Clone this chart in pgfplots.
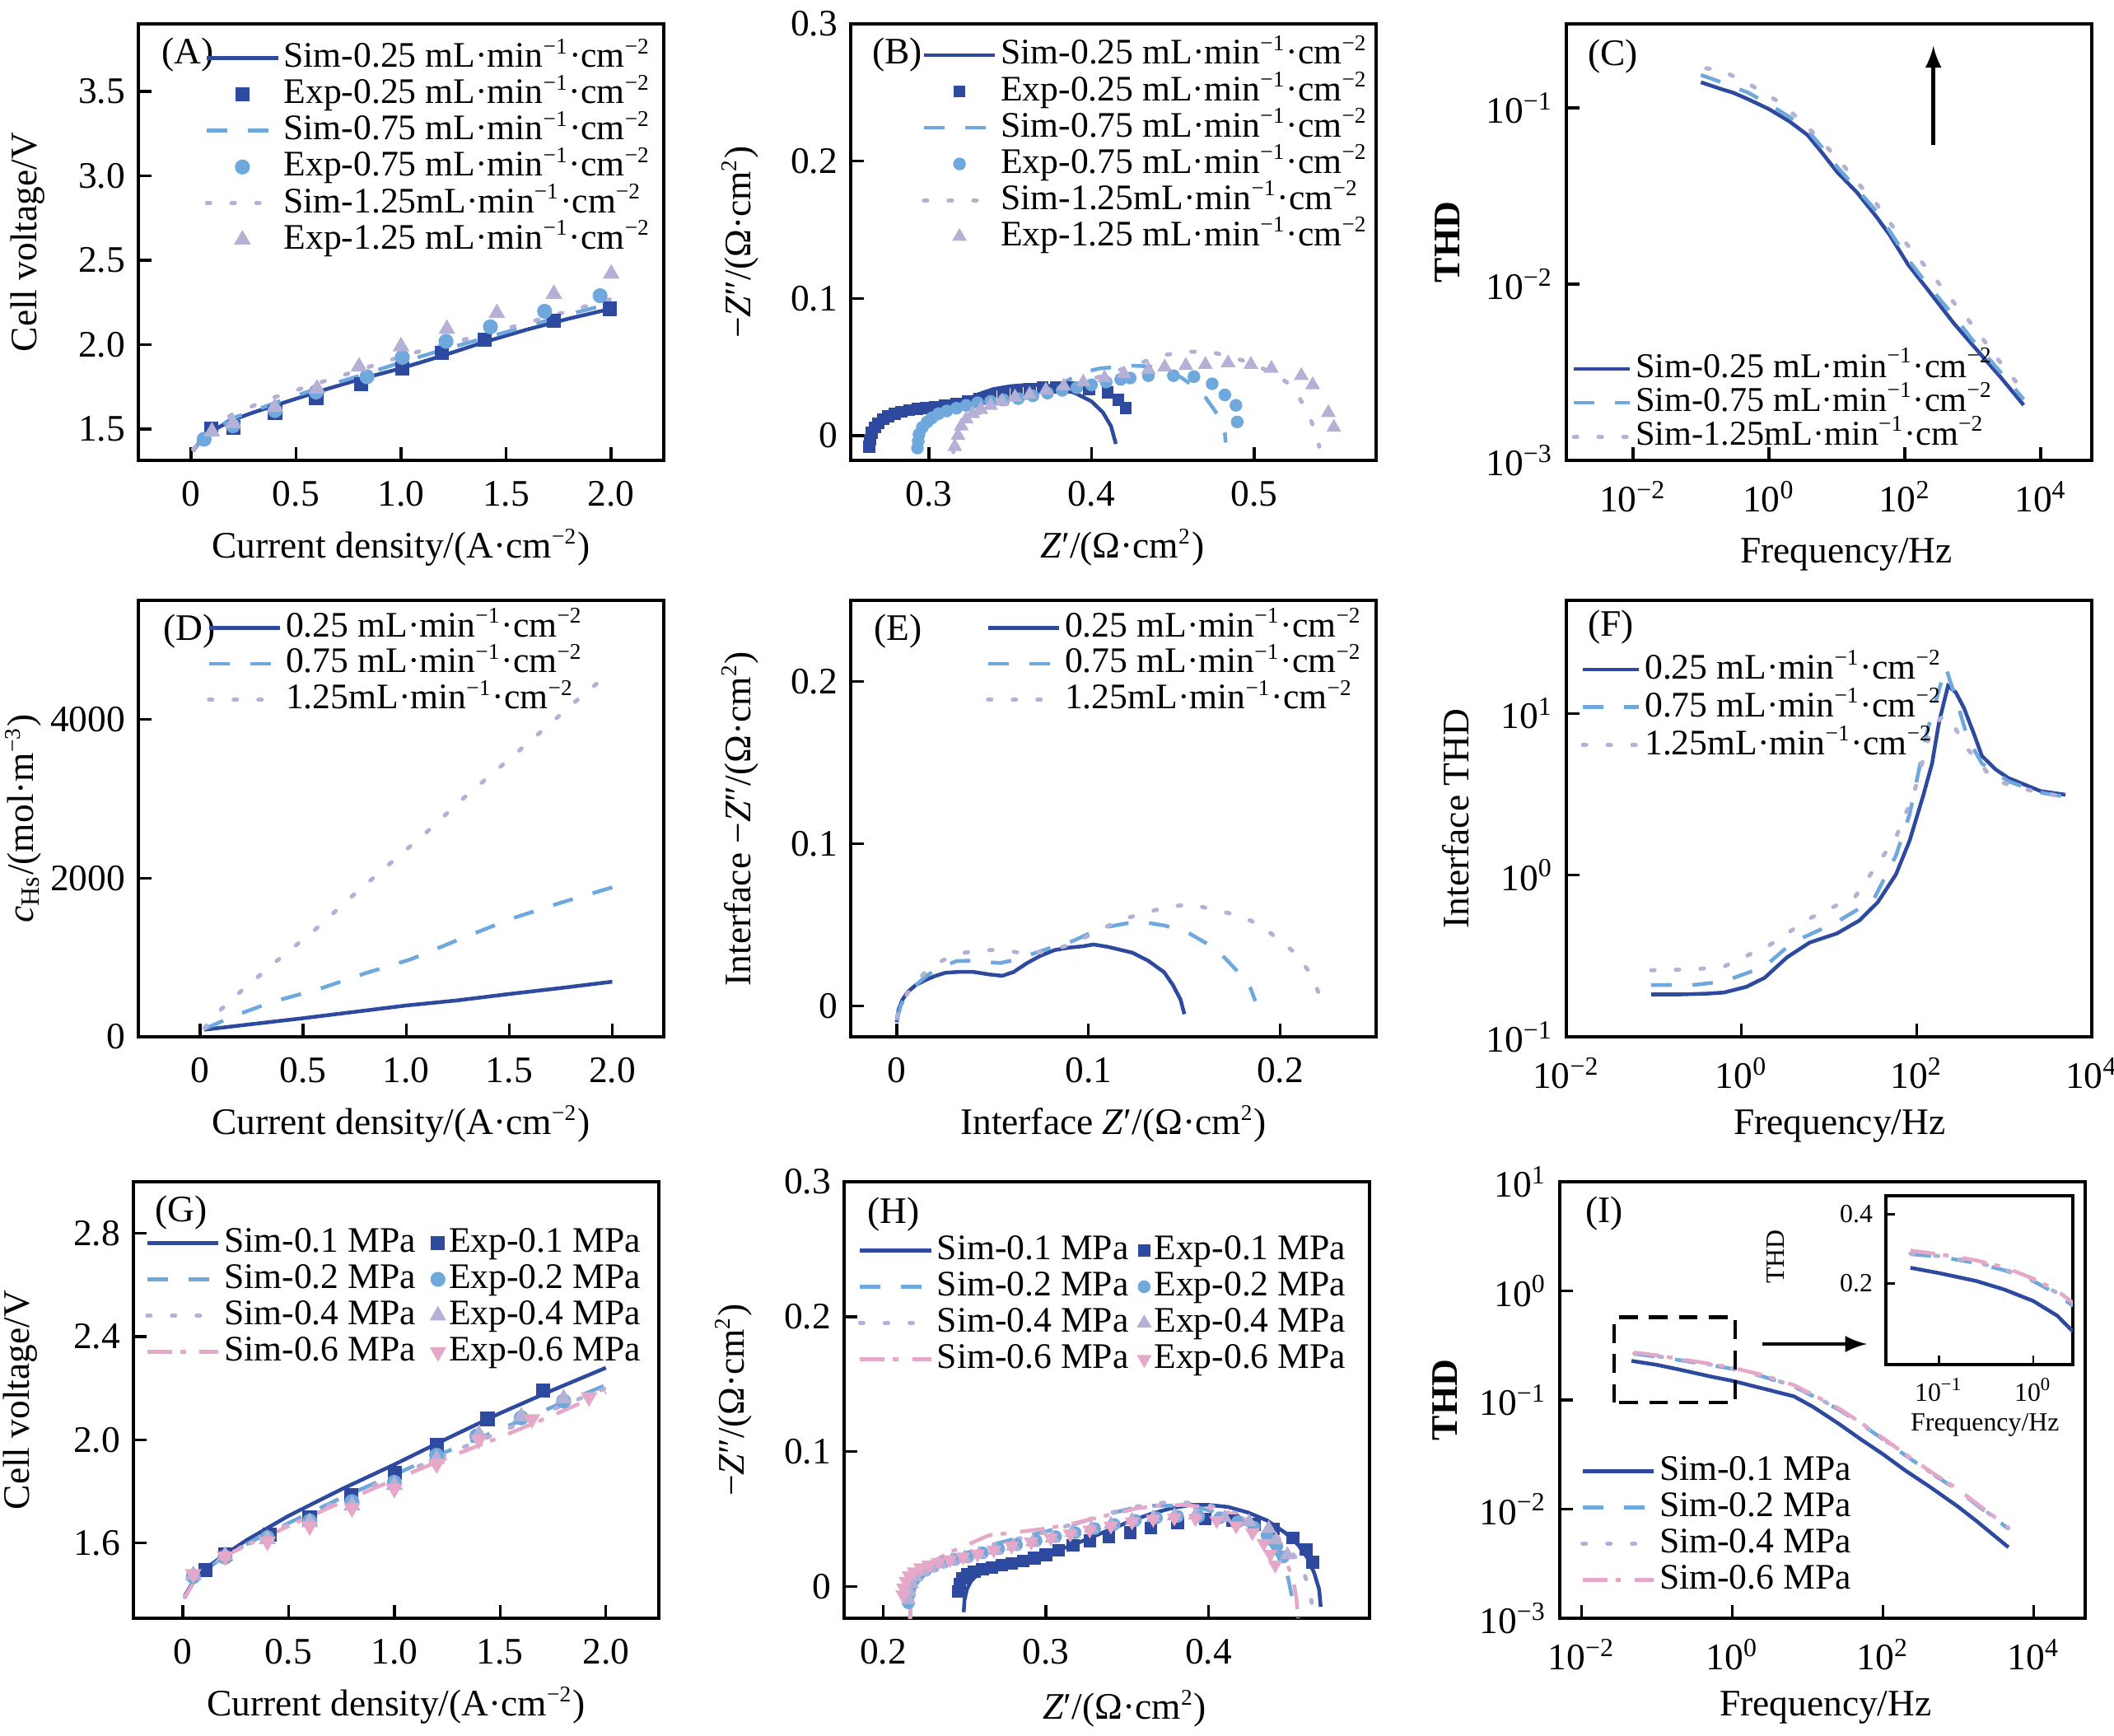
\documentclass[border=0pt]{standalone}
\usepackage{fontspec}
\setmainfont{Liberation Serif}
\usepackage{pgfplots}
\pgfplotsset{compat=1.18}
\definecolor{cdark}{RGB}{46,74,158}
\definecolor{clight}{RGB}{111,168,220}
\definecolor{clav}{RGB}{181,176,214}
\definecolor{cpink}{RGB}{230,168,200}
\newcommand{\sups}[1]{\textsuperscript{\fontsize{6}{7}\selectfont#1}}
\newcommand{\uu}{mL·min\sups{−1}·cm\sups{−2}}
\newcommand{\cd}{Current density/(A·cm\sups{−2})}
\newcommand{\zr}{\textit{Z}′/(Ω·cm\sups{2})}
\newcommand{\zi}{−\textit{Z}″/(Ω·cm\sups{2})}
\newcommand{\tn}[1]{10\textsuperscript{#1}}
\pgfplotsset{
  panel/.style={scale only axis, width=140.36pt, height=116.6pt,
    tick align=inside, tick pos=left, major tick length=3.5pt,
    axis line style={line width=0.75pt}, major tick style={line width=0.75pt,black},
    xminorticks=false, yminorticks=false,
    ticklabel style={font=\fontsize{10}{12}\selectfont},
    label style={font=\fontsize{10}{12}\selectfont},
    xticklabel style={yshift=-2pt},
    xlabel style={at={(axis description cs:0.5,-0.2)},anchor=center},
    ylabel style={at={(axis description cs:-0.21,0.5)},anchor=center},
    legend cell align=left,
    legend style={draw=none,fill=none,inner sep=0pt,font=\fontsize{9.6}{11}\selectfont,
      nodes={inner xsep=1pt,inner ysep=0pt,text height=7.3pt,text depth=2.4pt}},
    legend image code/.code={\draw[mark repeat=2,mark phase=2,##1] plot coordinates {(0pt,0pt)(9.5pt,0pt)(19pt,0pt)};}},
  leg15/.style={legend image code/.code={\draw[mark repeat=2,mark phase=2,##1] plot coordinates {(0pt,0pt)(7.5pt,0pt)(15pt,0pt)};}},
  markleg/.style={legend image code/.code={\draw[##1] plot coordinates {(0pt,0pt)};}},
  s1/.style={cdark, line width=1pt, no marks},
  s2/.style={clight, line width=1pt, dash pattern=on 5.5pt off 5.5pt, no marks},
  s3/.style={clav, line width=1.1pt, dash pattern=on 0.9pt off 5.7pt, line cap=round, no marks},
  s4/.style={cpink, line width=1pt, dash pattern=on 6.6pt off 2.2pt on 1.5pt off 3.7pt, no marks},
  e1/.style={only marks, mark=square*, cdark, mark size=1.7pt},
  e2/.style={only marks, mark=*, clight, mark size=1.8pt},
  e3/.style={only marks, mark=triangle*, clav, mark size=2.2pt},
  e4/.style={only marks, mark=triangle*, mark options={rotate=180}, cpink, mark size=2.2pt},
}
\begin{document}
\begin{tikzpicture}
\useasboundingbox (0,0) rectangle (564.74pt,-463.54pt);
% ---------------- A
\begin{axis}[panel, at={(36.96pt,-122.98pt)}, anchor=south west,
  xmin=-0.25, xmax=2.25, ymin=1.315, ymax=3.9,
  xtick={0,0.5,1,1.5,2}, xticklabels={0,0.5,1.0,1.5,2.0},
  ytick={1.5,2,2.5,3,3.5}, yticklabels={1.5,2.0,2.5,3.0,3.5},
  xlabel={\cd}, ylabel={Cell voltage/V},
  legend style={at={(0.125,0.965)},anchor=north west}]
\addplot[s1] coordinates {(0.01,1.37)(0.05,1.44)(0.1,1.49)(0.2,1.555)(0.3,1.60)(0.4,1.64)(0.6,1.72)(0.8,1.794)(1.0,1.86)(1.2,1.936)(1.4,2.017)(1.6,2.09)(1.8,2.155)(2.0,2.213)};
\addlegendentry{Sim-0.25 \uu}
\addplot[e1] coordinates {(0.097,1.5)(0.203,1.51)(0.4,1.598)(0.596,1.685)(0.81,1.766)(1.006,1.86)(1.193,1.951)(1.399,2.03)(1.727,2.143)(1.994,2.213)};
\addlegendentry{Exp-0.25 \uu}
\addplot[s2] coordinates {(0.01,1.37)(0.05,1.44)(0.1,1.49)(0.2,1.565)(0.4,1.655)(0.6,1.74)(0.8,1.815)(1.0,1.895)(1.2,1.97)(1.4,2.04)(1.6,2.11)(1.8,2.18)(2.0,2.245)};
\addlegendentry{Sim-0.75 \uu}
\addplot[e2] coordinates {(0.063,1.44)(0.2,1.52)(0.4,1.61)(0.596,1.72)(0.838,1.81)(1.006,1.925)(1.214,2.02)(1.425,2.106)(1.683,2.198)(1.947,2.29)};
\addlegendentry{Exp-0.75 \uu}
\addplot[s3] coordinates {(0.01,1.38)(0.1,1.51)(0.2,1.59)(0.4,1.69)(0.6,1.77)(0.8,1.85)(1.0,1.93)(1.2,2.0)(1.4,2.06)(1.6,2.13)(1.8,2.2)(2.0,2.27)};
\addlegendentry{Sim-1.25\uu}
\addplot[e3] coordinates {(0.1,1.485)(0.2,1.533)(0.4,1.63)(0.6,1.74)(0.8,1.87)(1.0,1.99)(1.218,2.093)(1.456,2.187)(1.727,2.30)(2.0,2.42)};
\addlegendentry{Exp-1.25 \uu}
\node[anchor=west,font=\fontsize{10}{12}\selectfont] at (axis description cs:0.02,0.93) {(A)};
\end{axis}
% ---------------- B
\begin{axis}[panel, at={(227.26pt,-122.98pt)}, anchor=south west,
  xmin=0.252, xmax=0.575, ymin=-0.018, ymax=0.3,
  xtick={0.3,0.4,0.5}, xticklabels={0.3,0.4,0.5},
  ytick={0,0.1,0.2,0.3}, yticklabels={0,0.1,0.2,0.3},
  xlabel={\zr}, ylabel={\zi},
  xlabel style={at={(axis description cs:0.517,-0.2)}},
  legend style={at={(0.134,0.972)},anchor=north west}]
\addplot[s1] coordinates {(0.2625,-0.010)(0.2635,-0.002)(0.265,0.004)(0.268,0.009)(0.272,0.013)(0.277,0.016)(0.283,0.018)(0.29,0.0195)(0.30,0.0205)(0.31,0.021)(0.32,0.024)(0.33,0.030)(0.34,0.034)(0.35,0.036)(0.36,0.037)(0.37,0.037)(0.38,0.035)(0.39,0.031)(0.40,0.025)(0.407,0.017)(0.412,0.007)(0.415,-0.006)};
\addlegendentry{Sim-0.25 \uu}
\addplot[e1,mark size=1.4pt] coordinates {(0.2635,-0.008)(0.264,-0.003)(0.265,0.002)(0.267,0.006)(0.269,0.009)(0.272,0.012)(0.275,0.014)(0.279,0.016)(0.283,0.0175)(0.288,0.0185)(0.293,0.0195)(0.298,0.020)(0.304,0.021)(0.310,0.022)(0.317,0.023)(0.324,0.025)(0.331,0.027)(0.338,0.029)(0.346,0.031)(0.354,0.033)(0.362,0.034)(0.370,0.035)(0.378,0.035)(0.386,0.035)(0.3985,0.034)(0.41,0.0315)(0.4165,0.026)(0.421,0.020)};
\addlegendentry{Exp-0.25 \uu}
\addplot[s2] coordinates {(0.2925,-0.012)(0.293,-0.004)(0.295,0.004)(0.298,0.009)(0.302,0.013)(0.308,0.016)(0.315,0.019)(0.325,0.022)(0.335,0.024)(0.345,0.026)(0.355,0.028)(0.365,0.031)(0.375,0.035)(0.385,0.040)(0.395,0.046)(0.405,0.049)(0.415,0.050)(0.425,0.051)(0.435,0.0505)(0.445,0.048)(0.455,0.0425)(0.463,0.036)(0.47,0.028)(0.476,0.018)(0.48,0.009)(0.482,0.002)(0.4825,-0.005)};
\addlegendentry{Sim-0.75 \uu}
\addplot[e2,mark size=1.5pt] coordinates {(0.293,-0.009)(0.2935,-0.004)(0.294,0.001)(0.296,0.006)(0.299,0.010)(0.302,0.013)(0.306,0.016)(0.311,0.018)(0.317,0.020)(0.323,0.022)(0.330,0.024)(0.338,0.025)(0.346,0.026)(0.355,0.027)(0.364,0.029)(0.373,0.031)(0.382,0.033)(0.391,0.035)(0.400,0.037)(0.409,0.039)(0.418,0.041)(0.4238,0.042)(0.435,0.0437)(0.4504,0.0437)(0.463,0.043)(0.4742,0.0378)(0.482,0.0297)(0.4888,0.0221)(0.4896,0.010)};
\addlegendentry{Exp-0.75 \uu}
\addplot[s3] coordinates {(0.315,-0.012)(0.316,-0.004)(0.318,0.004)(0.322,0.010)(0.328,0.015)(0.336,0.019)(0.345,0.023)(0.355,0.026)(0.365,0.029)(0.375,0.032)(0.385,0.035)(0.395,0.039)(0.405,0.043)(0.415,0.047)(0.425,0.051)(0.435,0.055)(0.4434,0.0585)(0.4588,0.0612)(0.4728,0.0612)(0.487,0.057)(0.50,0.052)(0.512,0.045)(0.52,0.039)(0.526,0.0316)(0.534,0.014)(0.539,-0.002)(0.540,-0.008)};
\addlegendentry{Sim-1.25\uu}
\addplot[e3,mark size=1.9pt] coordinates {(0.316,-0.008)(0.318,0.0)(0.32,0.007)(0.323,0.012)(0.327,0.016)(0.332,0.019)(0.338,0.022)(0.345,0.025)(0.353,0.028)(0.362,0.030)(0.372,0.033)(0.383,0.036)(0.395,0.039)(0.408,0.042)(0.42,0.045)(0.435,0.048)(0.445,0.05)(0.458,0.051)(0.47,0.0518)(0.484,0.053)(0.498,0.0518)(0.5106,0.049)(0.529,0.0437)(0.536,0.037)(0.5456,0.0167)(0.549,0.006)};
\addlegendentry{Exp-1.25 \uu}
\node[anchor=west,font=\fontsize{10}{12}\selectfont] at (axis description cs:0.016,0.93) {(B)};
\end{axis}
% ---------------- C
\begin{axis}[panel, leg15, at={(418.44pt,-122.98pt)}, anchor=south west,
  xmode=log, ymode=log,
  xmin=0.00105, xmax=56234, ymin=0.001, ymax=0.30,
  xtick={0.01,1,100,10000}, xticklabels={\tn{−2},\tn{0},\tn{2},\tn{4}},
  ytick={0.001,0.01,0.1}, yticklabels={\tn{−3},\tn{−2},\tn{−1}},
  xlabel={Frequency/Hz}, ylabel={\textbf{THD}},
  xlabel style={at={(axis description cs:0.533,-0.215)}},
  ylabel style={at={(axis description cs:-0.227,0.5)}},
  legend style={at={(0.009,0.013)},anchor=south west,font=\fontsize{9.3}{11}\selectfont,
    nodes={inner xsep=1pt,inner ysep=0pt,text height=6.8pt,text depth=2.3pt}}]
\addplot[s1] coordinates {(0.1,0.14)(0.2,0.128)(0.3,0.122)(0.5,0.112)(1,0.0986)(2,0.084)(3.7,0.0703)(6,0.056)(10,0.0435)(20,0.033)(38,0.0242)(60,0.019)(112,0.0129)(200,0.0097)(525,0.006)(1000,0.0045)(2500,0.003)(5600,0.00206)};
\addlegendentry{Sim-0.25 \uu}
\addplot[s2] coordinates {(0.1,0.154)(0.2,0.14)(0.5,0.122)(1,0.105)(2,0.089)(3.7,0.075)(6,0.060)(10,0.0465)(20,0.0345)(38,0.026)(60,0.020)(112,0.0138)(200,0.0103)(525,0.0066)(1000,0.0048)(2500,0.0032)(5600,0.00222)};
\addlegendentry{Sim-0.75 \uu}
\addplot[s3] coordinates {(0.12,0.168)(0.2,0.164)(0.54,0.135)(1.26,0.111)(2.75,0.087)(5.5,0.067)(11,0.050)(20.4,0.0375)(38,0.0287)(71,0.0205)(132,0.0153)(245,0.0115)(457,0.0084)(850,0.0063)(1580,0.0046)(2940,0.00333)(5500,0.0025)};
\addlegendentry{Sim-1.25\uu}
\draw[-latex, line width=1pt, black] (axis cs:263,0.062) -- (axis cs:263,0.225);
\node[anchor=west,font=\fontsize{10}{12}\selectfont] at (axis description cs:0.016,0.926) {(C)};
\end{axis}
% ---------------- D
\begin{axis}[panel, at={(36.96pt,-276.98pt)}, anchor=south west,
  xmin=-0.3, xmax=2.25, ymin=0, ymax=5500,
  xtick={0,0.5,1,1.5,2}, xticklabels={0,0.5,1.0,1.5,2.0},
  ytick={0,2000,4000}, yticklabels={0,2000,4000},
  xlabel={\cd}, ylabel={\textit{c}\textsubscript{Hs}/(mol·m\sups{−3})},
  ylabel style={at={(axis description cs:-0.219,0.5)}},
  legend style={at={(0.129,0.98)},anchor=north west,
    nodes={inner xsep=1pt,inner ysep=0pt,text height=7.2pt,text depth=2.4pt}}]
\addplot[s1] coordinates {(0.02,90)(0.25,160)(0.5,235)(0.75,315)(1.0,395)(1.25,460)(1.5,540)(1.75,615)(2.0,695)};
\addlegendentry{0.25 \uu}
\addplot[s2] coordinates {(0.02,100)(0.18,279)(0.35,440)(0.58,605)(0.8,800)(1.022,977)(1.25,1220)(1.509,1488)(1.75,1690)(2.0,1884)};
\addlegendentry{0.75 \uu}
\addplot[s3] coordinates {(0.02,110)(0.093,325)(0.18,535)(0.37,953)(0.557,1349)(0.735,1767)(0.912,2163)(1.09,2558)(1.265,2977)(1.453,3395)(1.63,3790)(1.814,4209)(2.0,4614)};
\addlegendentry{1.25\uu}
\node[anchor=west,font=\fontsize{10}{12}\selectfont] at (axis description cs:0.022,0.93) {(D)};
\end{axis}
% ---------------- E
\begin{axis}[panel, at={(227.26pt,-276.98pt)}, anchor=south west,
  xmin=-0.024, xmax=0.25, ymin=-0.019, ymax=0.25,
  xtick={0,0.1,0.2}, xticklabels={0,0.1,0.2},
  ytick={0,0.1,0.2}, yticklabels={0,0.1,0.2},
  xlabel={Interface \zr}, ylabel={Interface \zi},
  legend style={at={(0.256,0.98)},anchor=north west,
    nodes={inner xsep=1pt,inner ysep=0pt,text height=7.2pt,text depth=2.4pt}}]
\addplot[s1] coordinates {(0,-0.01)(0.001,-0.002)(0.003,0.004)(0.006,0.009)(0.01,0.013)(0.015,0.016)(0.02,0.0185)(0.0254,0.0205)(0.032,0.021)(0.04,0.021)(0.048,0.0195)(0.055,0.0186)(0.061,0.021)(0.068,0.0265)(0.075,0.031)(0.0824,0.0345)(0.09,0.036)(0.097,0.0368)(0.1026,0.0379)(0.11,0.0365)(0.1228,0.0329)(0.131,0.028)(0.1394,0.0209)(0.144,0.013)(0.148,0.004)(0.150,-0.005)};
\addlegendentry{0.25 \uu}
\addplot[s2] coordinates {(0,-0.009)(0.002,0.0)(0.005,0.007)(0.01,0.013)(0.016,0.019)(0.023,0.024)(0.0313,0.0277)(0.04,0.028)(0.048,0.027)(0.054,0.0265)(0.06,0.028)(0.068,0.031)(0.078,0.035)(0.0919,0.0401)(0.101,0.045)(0.111,0.049)(0.12,0.051)(0.13,0.0515)(0.14,0.0495)(0.151,0.0458)(0.161,0.039)(0.17,0.031)(0.178,0.021)(0.1846,0.0107)(0.187,0.003)};
\addlegendentry{0.75 \uu}
\addplot[s3] coordinates {(0,-0.007)(0.003,0.003)(0.008,0.012)(0.015,0.021)(0.022,0.027)(0.031,0.032)(0.044,0.0345)(0.056,0.0345)(0.068,0.032)(0.08,0.034)(0.0907,0.038)(0.103,0.045)(0.1157,0.0526)(0.128,0.057)(0.1394,0.0605)(0.1525,0.0628)(0.1656,0.0594)(0.1774,0.056)(0.1893,0.0503)(0.1988,0.0413)(0.2083,0.0322)(0.2166,0.0186)(0.2214,0.0039)};
\addlegendentry{1.25\uu}
\node[anchor=west,font=\fontsize{10}{12}\selectfont] at (axis description cs:0.02,0.93) {(E)};
\end{axis}
% ---------------- F
\begin{axis}[panel, leg15, at={(418.44pt,-276.98pt)}, anchor=south west,
  xmode=log, ymode=log,
  xmin=0.01, xmax=10000, ymin=0.1, ymax=50,
  xtick={0.01,1,100,10000}, xticklabels={\tn{−2},\tn{0},\tn{2},\tn{4}},
  ytick={0.1,1,10}, yticklabels={\tn{−1},\tn{0},\tn{1}},
  xlabel={Frequency/Hz}, ylabel={Interface THD},
  xlabel style={at={(axis description cs:0.52,-0.205)}},
  legend style={at={(0.026,0.887)},anchor=north west,
    nodes={inner xsep=1pt,inner ysep=0pt,text height=7.6pt,text depth=2.5pt}}]
\addplot[s1] coordinates {(0.093,0.183)(0.2,0.183)(0.4,0.185)(0.63,0.188)(1.14,0.204)(1.84,0.232)(3.3,0.31)(6.0,0.383)(12.3,0.436)(22.3,0.525)(36,0.68)(58,1.01)(83,1.63)(118,3.06)(150,4.9)(180,8.8)(228,14.8)(280,13.5)(347,10.8)(450,7.5)(556,5.46)(800,4.5)(1120,3.98)(2600,3.31)(5000,3.14)};
\addlegendentry{0.25 \uu}
\addplot[s2] coordinates {(0.093,0.209)(0.3,0.21)(0.63,0.22)(1.84,0.272)(3.8,0.383)(12,0.51)(32,0.70)(58,1.32)(83,2.37)(130,7.5)(180,14)(215,19.3)(240,16)(300,11)(380,7.1)(556,4.9)(1120,3.8)(2500,3.25)(5000,3.05)};
\addlegendentry{0.75 \uu}
\addplot[s3] coordinates {(0.093,0.258)(0.3,0.262)(0.63,0.272)(2.1,0.37)(6,0.54)(20,0.74)(58,1.71)(93,3.2)(150,8.3)(200,9.6)(240,9.2)(380,6.05)(760,3.86)(2600,3.21)(5000,3.07)};
\addlegendentry{1.25\uu}
\node[anchor=west,font=\fontsize{10}{12}\selectfont] at (axis description cs:0.016,0.938) {(F)};
\end{axis}
% ---------------- G
\begin{axis}[panel, at={(35.64pt,-432.3pt)}, anchor=south west,
  xmin=-0.233, xmax=2.25, ymin=1.308, ymax=3.0,
  xtick={0,0.5,1,1.5,2}, xticklabels={0,0.5,1.0,1.5,2.0},
  ytick={1.6,2.0,2.4,2.8}, yticklabels={1.6,2.0,2.4,2.8},
  xlabel={\cd}, ylabel={Cell voltage/V},
  ylabel style={at={(axis description cs:-0.215,0.5)}},
  legend columns=2,
  legend style={at={(0.021,0.903)},anchor=north west,
    /tikz/every even column/.append style={column sep=3pt}}]
\addplot[s1] coordinates {(0.01,1.395)(0.05,1.45)(0.1,1.497)(0.2,1.555)(0.3,1.61)(0.5,1.705)(0.75,1.808)(1.0,1.904)(1.25,2.005)(1.5,2.103)(1.75,2.193)(2.0,2.279)};
\addlegendentry{Sim-0.1 MPa}
\addplot[e1,markleg] coordinates {(0.108,1.496)(0.2,1.555)(0.41,1.633)(0.6,1.698)(0.797,1.785)(1.002,1.872)(1.2,1.98)(1.44,2.081)(1.703,2.19)};
\addlegendentry{Exp-0.1 MPa}
\addplot[s2] coordinates {(0.01,1.39)(0.05,1.445)(0.1,1.49)(0.2,1.55)(0.3,1.595)(0.5,1.677)(0.75,1.775)(1.0,1.865)(1.25,1.955)(1.5,2.04)(1.75,2.128)(2.0,2.212)};
\addlegendentry{Sim-0.2 MPa}
\addplot[e2,markleg] coordinates {(0.05,1.47)(0.2,1.545)(0.4,1.62)(0.6,1.685)(0.8,1.76)(1.0,1.835)(1.2,1.94)(1.39,2.015)(1.6,2.085)(1.8,2.15)};
\addlegendentry{Exp-0.2 MPa}
\addplot[s3] coordinates {(0.01,1.39)(0.05,1.445)(0.1,1.49)(0.2,1.55)(0.3,1.593)(0.5,1.672)(0.75,1.768)(1.0,1.857)(1.25,1.945)(1.5,2.03)(1.75,2.118)(2.0,2.20)};
\addlegendentry{Sim-0.4 MPa}
\addplot[e3,markleg] coordinates {(0.05,1.475)(0.2,1.55)(0.4,1.615)(0.6,1.68)(0.8,1.745)(1.0,1.825)(1.2,1.925)(1.4,2.02)(1.6,2.09)(1.8,2.16)};
\addlegendentry{Exp-0.4 MPa}
\addplot[s4] coordinates {(0.01,1.39)(0.05,1.445)(0.1,1.49)(0.2,1.55)(0.3,1.59)(0.5,1.665)(0.75,1.758)(1.0,1.845)(1.25,1.93)(1.5,2.01)(1.75,2.095)(2.0,2.185)};
\addlegendentry{Sim-0.6 MPa}
\addplot[e4,markleg] coordinates {(0.05,1.48)(0.2,1.548)(0.4,1.605)(0.6,1.665)(0.8,1.735)(1.0,1.81)(1.2,1.905)(1.4,2.0)(1.65,2.08)(1.92,2.165)};
\addlegendentry{Exp-0.6 MPa}
\node[anchor=west,font=\fontsize{10}{12}\selectfont] at (axis description cs:0.016,0.93) {(G)};
\end{axis}
% ---------------- H
\begin{axis}[panel, at={(225.5pt,-432.3pt)}, anchor=south west,
  xmin=0.176, xmax=0.499, ymin=-0.0235, ymax=0.3,
  xtick={0.2,0.3,0.4,0.5}, xticklabels={0.2,0.3,0.4,0.5},
  ytick={0,0.1,0.2,0.3}, yticklabels={0,0.1,0.2,0.3},
  xlabel={\zr}, ylabel={\zi},
  xlabel style={at={(axis description cs:0.534,-0.207)}},
  legend columns=2,
  legend style={at={(0.025,0.886)},anchor=north west,
    /tikz/every even column/.append style={column sep=1.5pt}}]
\addplot[s1] coordinates {(0.2495,-0.019)(0.250,-0.01)(0.2515,-0.002)(0.254,0.004)(0.258,0.009)(0.264,0.013)(0.272,0.016)(0.282,0.019)(0.293,0.022)(0.305,0.026)(0.317,0.031)(0.329,0.037)(0.341,0.043)(0.353,0.049)(0.365,0.054)(0.377,0.058)(0.389,0.0605)(0.400,0.0605)(0.412,0.059)(0.424,0.055)(0.436,0.049)(0.447,0.040)(0.455,0.031)(0.461,0.021)(0.465,0.010)(0.468,-0.002)(0.469,-0.015)};
\addlegendentry{Sim-0.1 MPa}
\addplot[e1,markleg,mark size=1.5pt] coordinates {(0.2462,-0.0036)(0.247,0.002)(0.249,0.006)(0.252,0.009)(0.256,0.011)(0.261,0.013)(0.267,0.014)(0.273,0.016)(0.279,0.017)(0.286,0.019)(0.293,0.021)(0.300,0.0235)(0.308,0.027)(0.3168,0.0305)(0.327,0.034)(0.3387,0.037)(0.352,0.040)(0.3645,0.0435)(0.381,0.047)(0.398,0.050)(0.415,0.049)(0.428,0.046)(0.440,0.0428)(0.452,0.0359)(0.460,0.0276)(0.464,0.018)};
\addlegendentry{Exp-0.1 MPa}
\addplot[s2] coordinates {(0.2165,-0.0235)(0.217,-0.012)(0.218,-0.004)(0.220,0.003)(0.224,0.009)(0.230,0.014)(0.238,0.018)(0.248,0.023)(0.258,0.028)(0.270,0.032)(0.283,0.036)(0.297,0.040)(0.311,0.044)(0.325,0.049)(0.339,0.054)(0.353,0.058)(0.367,0.060)(0.381,0.060)(0.395,0.058)(0.409,0.054)(0.421,0.048)(0.431,0.040)(0.439,0.030)(0.445,0.018)(0.449,0.006)(0.451,-0.006)(0.452,-0.019)};
\addlegendentry{Sim-0.2 MPa}
\addplot[e2,markleg,mark size=1.5pt] coordinates {(0.2155,-0.012)(0.216,-0.006)(0.217,0.0)(0.219,0.005)(0.222,0.009)(0.226,0.012)(0.231,0.015)(0.237,0.018)(0.244,0.020)(0.252,0.022)(0.261,0.025)(0.271,0.028)(0.282,0.031)(0.294,0.034)(0.306,0.037)(0.318,0.040)(0.330,0.043)(0.342,0.046)(0.355,0.049)(0.368,0.051)(0.381,0.052)(0.394,0.052)(0.407,0.051)(0.418,0.048)(0.428,0.044)(0.436,0.038)(0.442,0.030)(0.446,0.022)};
\addlegendentry{Exp-0.2 MPa}
\addplot[s3] coordinates {(0.2165,-0.0235)(0.217,-0.012)(0.219,-0.002)(0.222,0.006)(0.228,0.012)(0.236,0.017)(0.246,0.022)(0.258,0.027)(0.271,0.032)(0.285,0.036)(0.299,0.040)(0.313,0.045)(0.327,0.050)(0.341,0.055)(0.355,0.059)(0.369,0.062)(0.383,0.0625)(0.397,0.061)(0.411,0.057)(0.424,0.051)(0.436,0.043)(0.446,0.033)(0.454,0.021)(0.459,0.009)(0.462,-0.002)(0.4635,-0.012)};
\addlegendentry{Sim-0.4 MPa}
\addplot[e3,markleg,mark size=1.9pt] coordinates {(0.2155,-0.01)(0.216,-0.004)(0.2175,0.002)(0.22,0.007)(0.224,0.011)(0.229,0.014)(0.235,0.017)(0.242,0.019)(0.25,0.021)(0.259,0.024)(0.269,0.027)(0.28,0.030)(0.292,0.033)(0.304,0.036)(0.316,0.040)(0.328,0.043)(0.340,0.046)(0.353,0.049)(0.366,0.051)(0.379,0.0525)(0.392,0.053)(0.41,0.051)(0.425,0.048)(0.437,0.043)(0.4415,0.0345)(0.4485,0.0235)};
\addlegendentry{Exp-0.4 MPa}
\addplot[s4] coordinates {(0.2165,-0.0235)(0.217,-0.012)(0.218,-0.004)(0.220,0.004)(0.224,0.011)(0.230,0.018)(0.24,0.025)(0.25,0.030)(0.265,0.038)(0.28,0.040)(0.30,0.043)(0.314,0.046)(0.328,0.050)(0.342,0.054)(0.356,0.058)(0.370,0.060)(0.384,0.0605)(0.398,0.059)(0.412,0.055)(0.424,0.049)(0.434,0.041)(0.442,0.031)(0.448,0.018)(0.452,0.005)(0.454,-0.008)(0.455,-0.0235)};
\addlegendentry{Sim-0.6 MPa}
\addplot[e4,markleg,mark size=1.9pt] coordinates {(0.212,-0.006)(0.2125,-0.001)(0.214,0.004)(0.216,0.008)(0.219,0.011)(0.223,0.014)(0.228,0.016)(0.234,0.018)(0.241,0.020)(0.249,0.022)(0.258,0.024)(0.268,0.027)(0.279,0.030)(0.291,0.033)(0.303,0.036)(0.315,0.039)(0.327,0.042)(0.340,0.045)(0.353,0.048)(0.366,0.050)(0.379,0.051)(0.392,0.0505)(0.405,0.049)(0.417,0.045)(0.427,0.040)(0.434,0.032)(0.438,0.024)(0.441,0.016)};
\addlegendentry{Exp-0.6 MPa}
\node[anchor=west,font=\fontsize{10}{12}\selectfont] at (axis description cs:0.019,0.925) {(H)};
\end{axis}
% ---------------- I
\begin{axis}[panel, at={(416.68pt,-432.3pt)}, anchor=south west,
  xmode=log, ymode=log,
  xmin=0.00513, xmax=48400, ymin=0.001, ymax=10,
  xtick={0.01,1,100,10000}, xticklabels={\tn{−2},\tn{0},\tn{2},\tn{4}},
  ytick={0.001,0.01,0.1,1,10}, yticklabels={\tn{−3},\tn{−2},\tn{−1},\tn{0},\tn{1}},
  xlabel={Frequency/Hz}, ylabel={\textbf{THD}},
  xlabel style={at={(axis description cs:0.506,-0.204)}},
  ylabel style={at={(axis description cs:-0.219,0.5)}},
  legend style={at={(0.038,0.044)},anchor=south west}]
\addplot[s1] coordinates {(0.046,0.2285)(0.1,0.21)(0.2,0.19)(0.5,0.165)(1,0.15)(2.5,0.128)(6.6,0.108)(12,0.086)(26.5,0.06)(50,0.044)(100,0.0319)(200,0.0225)(432,0.0158)(1000,0.0105)(1740,0.0078)(4640,0.00447)};
\addlegendentry{Sim-0.1 MPa}
\addplot[s2] coordinates {(0.05,0.265)(0.1,0.25)(0.2,0.232)(0.5,0.21)(1,0.193)(2.5,0.165)(6.6,0.133)(12,0.108)(26.5,0.081)(50,0.061)(100,0.0437)(200,0.031)(432,0.0215)(1000,0.0148)(1740,0.011)(4640,0.0066)};
\addlegendentry{Sim-0.2 MPa}
\addplot[s3] coordinates {(0.05,0.267)(0.1,0.252)(0.2,0.234)(0.5,0.212)(1,0.195)(2.5,0.167)(6.6,0.134)(12,0.109)(26.5,0.082)(50,0.0615)(100,0.044)(200,0.0313)(432,0.0217)(1000,0.0149)(1740,0.0111)(4640,0.0067)};
\addlegendentry{Sim-0.4 MPa}
\addplot[s4] coordinates {(0.05,0.273)(0.1,0.257)(0.2,0.238)(0.5,0.215)(1,0.198)(2.5,0.17)(6.6,0.137)(12,0.111)(26.5,0.083)(50,0.0625)(100,0.0448)(200,0.0318)(432,0.022)(1000,0.0152)(1740,0.0113)(4640,0.0068)};
\addlegendentry{Sim-0.6 MPa}
\draw[line width=0.9pt, black, dash pattern=on 5pt off 3pt] (axis cs:0.0273,0.0946) rectangle (axis cs:1.1,0.574);
\draw[-latex, line width=1pt, black] (axis cs:2.48,0.326) -- (axis cs:61.4,0.326);
\node[anchor=west,font=\fontsize{10}{12}\selectfont] at (axis description cs:0.024,0.927) {(I)};
\end{axis}
% ---------------- inset
\begin{axis}[scale only axis, width=49.94pt, height=45.1pt, at={(503.8pt,-364.54pt)}, anchor=south west,
  axis background/.style={fill=white},
  xmode=log, ymode=log, xmin=0.0275, xmax=2.63, ymin=0.089, ymax=0.48,
  tick align=inside, tick pos=left, major tick length=2.5pt,
  axis line style={line width=0.75pt}, major tick style={line width=0.6pt,black},
  xminorticks=false, yminorticks=false,
  xtick={0.1,1}, xticklabels={\tn{−1},\tn{0}},
  ytick={0.2,0.4}, yticklabels={0.2,0.4},
  ticklabel style={font=\fontsize{7}{8}\selectfont},
  label style={font=\fontsize{7}{8}\selectfont},
  xlabel={Frequency/Hz}, ylabel={THD},
  xlabel style={at={(axis description cs:0.53,-0.36)},anchor=center},
  ylabel style={at={(axis description cs:-0.59,0.64)},anchor=center}]
\addplot[s1] coordinates {(0.05,0.234)(0.1,0.222)(0.25,0.205)(0.5,0.188)(1,0.168)(1.8,0.145)(2.63,0.124)};
\addplot[s2] coordinates {(0.05,0.268)(0.1,0.262)(0.25,0.245)(0.5,0.228)(1,0.205)(1.8,0.18)(2.63,0.16)};
\addplot[s3] coordinates {(0.05,0.27)(0.1,0.263)(0.25,0.247)(0.5,0.23)(1,0.207)(1.8,0.182)(2.63,0.162)};
\addplot[s4] coordinates {(0.05,0.278)(0.1,0.268)(0.25,0.252)(0.5,0.235)(1,0.21)(1.8,0.186)(2.63,0.165)};
\end{axis}
\end{tikzpicture}
\end{document}
